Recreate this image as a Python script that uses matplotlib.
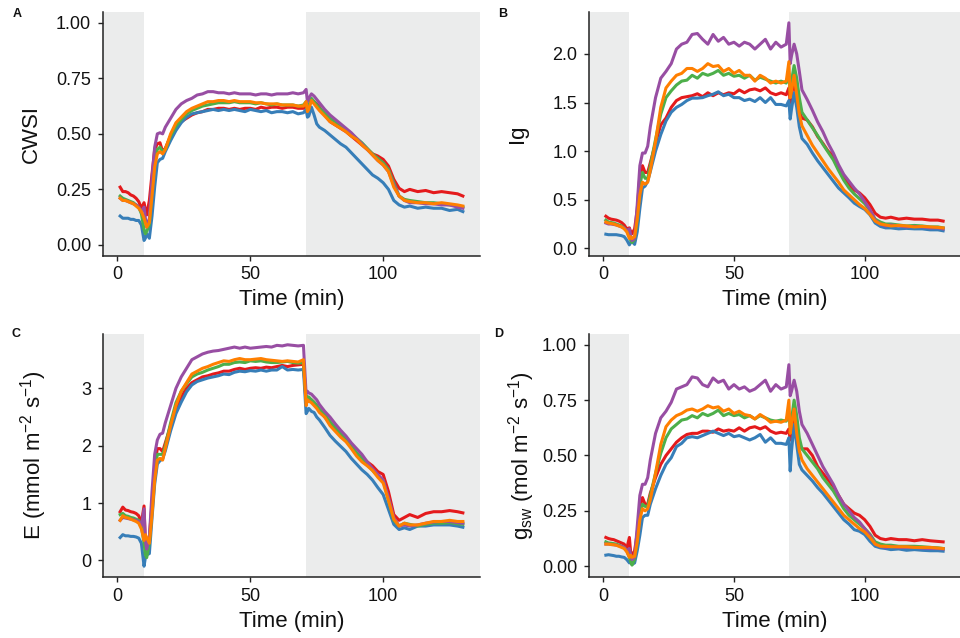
import matplotlib
matplotlib.use("Agg")
import matplotlib.pyplot as plt

plt.rcParams['font.family'] = ['Liberation Sans', 'DejaVu Sans']
plt.rcParams['mathtext.fontset'] = 'custom'
plt.rcParams['mathtext.rm'] = 'Liberation Sans'
plt.rcParams['mathtext.it'] = 'Liberation Sans:italic'

# ---------------- data ----------------
time = [1, 2, 3, 4, 5, 6, 7, 8, 9, 10, 10.5, 11, 12, 13, 14, 15, 16, 17, 18, 20,
        22, 24, 26, 28, 30, 32, 34, 36, 38, 40, 42, 44, 46, 48, 50, 52, 54, 56, 58, 60,
        62, 64, 66, 68, 70, 71, 71.5, 72, 73, 74, 75, 76, 78, 80, 82, 84, 86, 88, 90, 92,
        94, 96, 98, 100, 102, 104, 106, 108, 110, 113, 116, 119, 122, 125, 128, 130]

series_names = ['red', 'blue', 'green', 'purple', 'orange']
series_colors = ['#E41A1C', '#377EB8', '#4DAF4A', '#984EA3', '#FF7F00']

# Panel A: CWSI
cwsi_red = [0.26, 0.24, 0.24, 0.235, 0.225, 0.22, 0.21, 0.195, 0.165, 0.19, 0.16, 0.135, 0.2, 0.32, 0.43, 0.455, 0.46, 0.42, 0.435, 0.49,
            0.53, 0.555, 0.57, 0.585, 0.595, 0.6, 0.61, 0.61, 0.615, 0.615, 0.61, 0.615, 0.61, 0.615, 0.615, 0.61, 0.62, 0.615, 0.62, 0.62,
            0.615, 0.62, 0.62, 0.615, 0.615, 0.63, 0.61, 0.625, 0.655, 0.645, 0.635, 0.62, 0.585, 0.555, 0.54, 0.525, 0.51, 0.49, 0.47, 0.45,
            0.43, 0.41, 0.4, 0.385, 0.355, 0.295, 0.255, 0.24, 0.25, 0.24, 0.245, 0.235, 0.24, 0.235, 0.23, 0.22]
cwsi_blue = [0.13, 0.12, 0.12, 0.12, 0.115, 0.115, 0.11, 0.11, 0.09, 0.02, 0.03, 0.05, 0.03, 0.13, 0.26, 0.37, 0.385, 0.39, 0.42, 0.47,
             0.515, 0.55, 0.575, 0.59, 0.595, 0.6, 0.605, 0.61, 0.605, 0.61, 0.605, 0.61, 0.605, 0.6, 0.61, 0.605, 0.6, 0.605, 0.595, 0.6,
             0.6, 0.595, 0.6, 0.59, 0.595, 0.61, 0.575, 0.58, 0.62, 0.585, 0.545, 0.53, 0.515, 0.495, 0.475, 0.455, 0.44, 0.415, 0.39, 0.365,
             0.34, 0.315, 0.3, 0.28, 0.25, 0.2, 0.18, 0.17, 0.175, 0.165, 0.17, 0.165, 0.165, 0.155, 0.16, 0.15]
cwsi_green = [0.22, 0.21, 0.205, 0.2, 0.195, 0.19, 0.18, 0.17, 0.14, 0.07, 0.05, 0.06, 0.09, 0.25, 0.38, 0.43, 0.44, 0.42, 0.43, 0.49,
              0.535, 0.565, 0.59, 0.605, 0.615, 0.625, 0.63, 0.635, 0.64, 0.64, 0.64, 0.645, 0.64, 0.64, 0.64, 0.635, 0.64, 0.635, 0.63, 0.635,
              0.63, 0.63, 0.63, 0.625, 0.63, 0.645, 0.615, 0.625, 0.66, 0.645, 0.63, 0.615, 0.595, 0.57, 0.555, 0.535, 0.52, 0.5, 0.48, 0.46,
              0.435, 0.41, 0.39, 0.37, 0.34, 0.28, 0.22, 0.205, 0.2, 0.195, 0.19, 0.19, 0.185, 0.18, 0.175, 0.17]
cwsi_purple = [0.21, 0.2, 0.2, 0.195, 0.19, 0.185, 0.18, 0.17, 0.15, 0.17, 0.12, 0.08, 0.12, 0.3, 0.44, 0.5, 0.505, 0.5, 0.53, 0.57,
               0.61, 0.635, 0.65, 0.66, 0.675, 0.68, 0.69, 0.69, 0.685, 0.685, 0.68, 0.685, 0.68, 0.68, 0.68, 0.675, 0.68, 0.68, 0.675, 0.68,
               0.68, 0.68, 0.685, 0.68, 0.685, 0.70, 0.645, 0.66, 0.68, 0.67, 0.655, 0.64, 0.61, 0.585, 0.565, 0.545, 0.525, 0.505, 0.48, 0.455,
               0.43, 0.405, 0.38, 0.36, 0.33, 0.27, 0.22, 0.2, 0.19, 0.19, 0.185, 0.185, 0.18, 0.18, 0.17, 0.165]
cwsi_orange = [0.21, 0.2, 0.2, 0.195, 0.19, 0.185, 0.175, 0.165, 0.15, 0.12, 0.1, 0.08, 0.1, 0.22, 0.35, 0.41, 0.42, 0.41, 0.43, 0.5,
               0.55, 0.575, 0.6, 0.615, 0.625, 0.635, 0.645, 0.645, 0.65, 0.65, 0.645, 0.65, 0.645, 0.645, 0.645, 0.64, 0.64, 0.635, 0.635, 0.635,
               0.63, 0.63, 0.63, 0.625, 0.625, 0.645, 0.6, 0.61, 0.65, 0.635, 0.62, 0.605, 0.58, 0.555, 0.54, 0.525, 0.51, 0.49, 0.475, 0.45,
               0.43, 0.405, 0.38, 0.36, 0.33, 0.26, 0.22, 0.2, 0.195, 0.19, 0.19, 0.185, 0.19, 0.185, 0.18, 0.175]

# Panel B: Ig
ig_red = [0.33, 0.31, 0.3, 0.295, 0.29, 0.28, 0.265, 0.24, 0.2, 0.21, 0.17, 0.15, 0.2, 0.4, 0.75, 0.85, 0.78, 0.78, 0.88, 1.08,
          1.27, 1.34, 1.45, 1.52, 1.55, 1.56, 1.57, 1.59, 1.56, 1.6, 1.57, 1.6, 1.58, 1.6, 1.59, 1.63, 1.6, 1.63, 1.64, 1.62,
          1.65, 1.6, 1.58, 1.6, 1.58, 1.65, 1.5, 1.58, 1.72, 1.55, 1.4, 1.34, 1.32, 1.25, 1.15, 1.08, 1.0, 0.95, 0.82, 0.72,
          0.65, 0.6, 0.57, 0.52, 0.45, 0.36, 0.32, 0.31, 0.32, 0.3, 0.31, 0.3, 0.3, 0.29, 0.29, 0.28]
ig_blue = [0.145, 0.14, 0.14, 0.14, 0.14, 0.135, 0.13, 0.12, 0.085, 0.035, 0.06, 0.07, 0.04, 0.17, 0.41, 0.62, 0.64, 0.69, 0.79, 1.0,
           1.17, 1.31, 1.4, 1.45, 1.48, 1.52, 1.545, 1.545, 1.55, 1.57, 1.585, 1.61, 1.57, 1.585, 1.55, 1.55, 1.52, 1.535, 1.51, 1.55,
           1.5, 1.55, 1.48, 1.48, 1.465, 1.52, 1.33, 1.43, 1.6, 1.45, 1.25, 1.13, 1.07, 0.98, 0.9, 0.83, 0.76, 0.69, 0.62, 0.57,
           0.52, 0.465, 0.43, 0.4, 0.345, 0.26, 0.225, 0.21, 0.21, 0.2, 0.205, 0.2, 0.2, 0.19, 0.19, 0.18]
ig_green = [0.29, 0.27, 0.265, 0.26, 0.25, 0.24, 0.23, 0.21, 0.18, 0.12, 0.08, 0.06, 0.09, 0.3, 0.65, 0.78, 0.72, 0.72, 0.85, 1.12,
            1.38, 1.55, 1.62, 1.68, 1.72, 1.73, 1.78, 1.75, 1.8, 1.78, 1.8, 1.83, 1.78, 1.8, 1.77, 1.78, 1.75, 1.78, 1.73, 1.76,
            1.74, 1.72, 1.7, 1.72, 1.7, 1.8, 1.62, 1.72, 1.88, 1.75, 1.55, 1.4, 1.32, 1.24, 1.16, 1.07, 0.99, 0.91, 0.8, 0.7,
            0.62, 0.56, 0.51, 0.46, 0.39, 0.3, 0.27, 0.25, 0.25, 0.24, 0.23, 0.235, 0.23, 0.22, 0.22, 0.21]
ig_purple = [0.26, 0.25, 0.25, 0.245, 0.24, 0.23, 0.22, 0.21, 0.18, 0.2, 0.13, 0.08, 0.1, 0.45, 0.85, 0.98, 0.98, 1.05, 1.25, 1.55,
             1.75, 1.82, 1.9, 2.05, 2.1, 2.12, 2.2, 2.21, 2.15, 2.1, 2.2, 2.13, 2.17, 2.1, 2.12, 2.08, 2.12, 2.1, 2.05, 2.1,
             2.15, 2.05, 2.12, 2.07, 2.1, 2.32, 1.9, 1.98, 2.1, 2.0, 1.82, 1.63, 1.53, 1.42, 1.3, 1.2, 1.08, 0.98, 0.86, 0.76,
             0.69, 0.62, 0.56, 0.48, 0.4, 0.29, 0.25, 0.23, 0.24, 0.23, 0.22, 0.225, 0.22, 0.21, 0.21, 0.2]
ig_orange = [0.27, 0.26, 0.255, 0.25, 0.24, 0.23, 0.22, 0.2, 0.17, 0.1, 0.12, 0.1, 0.12, 0.3, 0.55, 0.68, 0.66, 0.68, 0.8, 1.1,
             1.45, 1.65, 1.72, 1.78, 1.8, 1.85, 1.85, 1.82, 1.85, 1.9, 1.87, 1.88, 1.82, 1.85, 1.8, 1.83, 1.78, 1.78, 1.72, 1.78,
             1.75, 1.7, 1.72, 1.7, 1.72, 1.92, 1.55, 1.62, 1.78, 1.58, 1.38, 1.26, 1.16, 1.06, 0.98, 0.9, 0.82, 0.75, 0.68, 0.6,
             0.55, 0.5, 0.45, 0.41, 0.35, 0.28, 0.25, 0.24, 0.23, 0.235, 0.23, 0.22, 0.225, 0.22, 0.215, 0.21]

# Panel C: E
e_red = [0.85, 0.93, 0.88, 0.87, 0.85, 0.84, 0.82, 0.78, 0.65, 0.95, 0.3, 0.2, 0.4, 1.0, 1.65, 1.95, 1.95, 1.9, 2.05, 2.35,
         2.65, 2.85, 3.0, 3.1, 3.15, 3.2, 3.22, 3.25, 3.27, 3.3, 3.3, 3.33, 3.35, 3.33, 3.35, 3.36, 3.35, 3.37, 3.36, 3.38,
         3.4, 3.38, 3.4, 3.41, 3.42, 2.75, 2.85, 2.82, 2.8, 2.75, 2.7, 2.62, 2.5, 2.4, 2.3, 2.2, 2.1, 1.98, 1.85, 1.8,
         1.72, 1.65, 1.55, 1.5, 1.2, 0.8, 0.7, 0.75, 0.8, 0.75, 0.82, 0.85, 0.85, 0.87, 0.85, 0.83]
e_blue = [0.4, 0.45, 0.43, 0.43, 0.42, 0.42, 0.41, 0.39, 0.3, -0.1, 0.05, 0.1, 0.12, 0.74, 1.33, 1.68, 1.74, 1.77, 1.91, 2.26,
          2.56, 2.76, 2.94, 3.06, 3.12, 3.15, 3.18, 3.2, 3.22, 3.25, 3.24, 3.28, 3.3, 3.29, 3.31, 3.3, 3.32, 3.3, 3.32, 3.32,
          3.38, 3.32, 3.33, 3.32, 3.33, 2.56, 2.6, 2.65, 2.6, 2.58, 2.5, 2.45, 2.32, 2.18, 2.08, 1.99, 1.9, 1.78, 1.68, 1.58,
          1.5, 1.4, 1.27, 1.15, 0.89, 0.63, 0.54, 0.57, 0.54, 0.6, 0.6, 0.62, 0.62, 0.62, 0.6, 0.58]
e_green = [0.8, 0.82, 0.78, 0.77, 0.75, 0.74, 0.72, 0.7, 0.6, 0.3, 0.1, 0.05, 0.3, 0.9, 1.5, 1.85, 1.85, 1.85, 2.0, 2.4,
           2.75, 2.95, 3.08, 3.2, 3.25, 3.28, 3.32, 3.35, 3.38, 3.42, 3.42, 3.45, 3.46, 3.45, 3.48, 3.47, 3.48, 3.46, 3.45, 3.45,
           3.46, 3.47, 3.45, 3.44, 3.45, 2.8, 2.85, 2.85, 2.8, 2.76, 2.7, 2.64, 2.55, 2.42, 2.32, 2.22, 2.12, 2.0, 1.88, 1.78,
           1.67, 1.57, 1.47, 1.4, 1.05, 0.7, 0.6, 0.65, 0.63, 0.6, 0.63, 0.65, 0.65, 0.66, 0.64, 0.63]
e_purple = [0.7, 0.75, 0.74, 0.73, 0.72, 0.71, 0.7, 0.68, 0.6, 0.9, 0.35, 0.2, 0.4, 1.2, 1.85, 2.1, 2.2, 2.22, 2.4, 2.7,
            3.0, 3.2, 3.35, 3.5, 3.55, 3.6, 3.63, 3.65, 3.66, 3.68, 3.7, 3.72, 3.7, 3.72, 3.7, 3.71, 3.72, 3.73, 3.72, 3.75,
            3.74, 3.76, 3.75, 3.74, 3.75, 2.9, 2.95, 2.92, 2.9, 2.85, 2.8, 2.72, 2.6, 2.5, 2.38, 2.27, 2.17, 2.05, 1.95, 1.85,
            1.72, 1.6, 1.5, 1.4, 1.1, 0.75, 0.6, 0.62, 0.6, 0.62, 0.65, 0.67, 0.68, 0.68, 0.66, 0.65]
e_orange = [0.7, 0.78, 0.75, 0.74, 0.72, 0.7, 0.68, 0.65, 0.55, 0.35, 0.45, 0.4, 0.3, 0.8, 1.4, 1.75, 1.78, 1.75, 1.95, 2.35,
            2.7, 2.95, 3.1, 3.25, 3.3, 3.35, 3.38, 3.42, 3.45, 3.48, 3.47, 3.5, 3.52, 3.5, 3.5, 3.51, 3.52, 3.5, 3.49, 3.48,
            3.47, 3.48, 3.47, 3.46, 3.5, 2.7, 2.8, 2.78, 2.75, 2.7, 2.65, 2.58, 2.5, 2.35, 2.25, 2.15, 2.07, 1.95, 1.82, 1.72,
            1.65, 1.57, 1.45, 1.35, 1.05, 0.72, 0.6, 0.65, 0.62, 0.62, 0.65, 0.68, 0.68, 0.7, 0.68, 0.68]

# Panel D: gsw
gsw_red = [0.13, 0.125, 0.122, 0.12, 0.115, 0.11, 0.105, 0.1, 0.08, 0.13, 0.06, 0.05, 0.07, 0.15, 0.27, 0.31, 0.28, 0.28, 0.33, 0.4,
           0.46, 0.5, 0.53, 0.56, 0.58, 0.595, 0.6, 0.6, 0.61, 0.61, 0.605, 0.62, 0.61, 0.615, 0.61, 0.625, 0.61, 0.625, 0.63, 0.62,
           0.63, 0.61, 0.6, 0.605, 0.6, 0.62, 0.57, 0.6, 0.68, 0.58, 0.55, 0.53, 0.53, 0.5, 0.45, 0.42, 0.39, 0.36, 0.32, 0.28,
           0.26, 0.24, 0.23, 0.21, 0.18, 0.14, 0.125, 0.12, 0.125, 0.12, 0.12, 0.115, 0.12, 0.115, 0.112, 0.11]
gsw_blue = [0.05, 0.052, 0.05, 0.048, 0.045, 0.045, 0.042, 0.04, 0.03, 0.015, 0.02, 0.008, 0.015, 0.07, 0.14, 0.22, 0.23, 0.23, 0.28, 0.35,
            0.41, 0.46, 0.49, 0.54, 0.555, 0.58, 0.585, 0.58, 0.59, 0.6, 0.61, 0.6, 0.59, 0.6, 0.585, 0.59, 0.58, 0.57, 0.58, 0.595,
            0.56, 0.58, 0.555, 0.555, 0.55, 0.58, 0.43, 0.52, 0.64, 0.55, 0.46, 0.435, 0.41, 0.385, 0.355, 0.33, 0.3, 0.27, 0.24, 0.21,
            0.19, 0.165, 0.158, 0.143, 0.113, 0.09, 0.083, 0.08, 0.075, 0.078, 0.072, 0.075, 0.072, 0.07, 0.07, 0.068]
gsw_green = [0.11, 0.105, 0.104, 0.102, 0.1, 0.095, 0.09, 0.085, 0.07, 0.04, 0.02, 0.005, 0.03, 0.12, 0.24, 0.28, 0.27, 0.27, 0.32, 0.42,
             0.51, 0.58, 0.62, 0.64, 0.66, 0.665, 0.68, 0.67, 0.69, 0.68, 0.69, 0.705, 0.68, 0.69, 0.68, 0.685, 0.67, 0.68, 0.665, 0.68,
             0.67, 0.66, 0.655, 0.66, 0.655, 0.69, 0.63, 0.66, 0.75, 0.68, 0.58, 0.53, 0.5, 0.47, 0.44, 0.4, 0.37, 0.34, 0.3, 0.26,
             0.23, 0.21, 0.19, 0.17, 0.145, 0.11, 0.1, 0.095, 0.095, 0.09, 0.09, 0.09, 0.088, 0.085, 0.083, 0.08]
gsw_purple = [0.1, 0.1, 0.098, 0.097, 0.095, 0.092, 0.09, 0.085, 0.07, 0.08, 0.05, 0.03, 0.04, 0.18, 0.32, 0.37, 0.37, 0.4, 0.48, 0.6,
              0.67, 0.7, 0.74, 0.8, 0.81, 0.82, 0.855, 0.85, 0.82, 0.81, 0.85, 0.83, 0.84, 0.8, 0.82, 0.8, 0.81, 0.79, 0.8, 0.82,
              0.84, 0.79, 0.82, 0.8, 0.81, 0.91, 0.77, 0.79, 0.84, 0.79, 0.7, 0.64, 0.6, 0.55, 0.5, 0.45, 0.41, 0.37, 0.32, 0.28,
              0.25, 0.22, 0.2, 0.17, 0.14, 0.1, 0.09, 0.085, 0.09, 0.085, 0.085, 0.085, 0.082, 0.08, 0.08, 0.078]
gsw_orange = [0.1, 0.1, 0.098, 0.097, 0.095, 0.09, 0.085, 0.08, 0.065, 0.04, 0.05, 0.04, 0.045, 0.11, 0.21, 0.26, 0.25, 0.26, 0.3, 0.42,
              0.55, 0.63, 0.66, 0.68, 0.69, 0.705, 0.71, 0.7, 0.71, 0.725, 0.715, 0.72, 0.7, 0.71, 0.69, 0.7, 0.685, 0.68, 0.665, 0.685,
              0.67, 0.65, 0.655, 0.65, 0.66, 0.75, 0.6, 0.64, 0.71, 0.6, 0.52, 0.48, 0.44, 0.41, 0.38, 0.35, 0.32, 0.29, 0.26, 0.23,
              0.21, 0.19, 0.17, 0.155, 0.13, 0.1, 0.09, 0.09, 0.088, 0.088, 0.088, 0.085, 0.085, 0.085, 0.082, 0.08]

shade_ranges = [(-20, 10), (71, 150)]
x_ticks = [0, 50, 100]
cwsi_ticks = [0.0, 0.25, 0.5, 0.75, 1.0]
cwsi_ticklabels = ['0.00', '0.25', '0.50', '0.75', '1.00']
ig_ticks = [0.0, 0.5, 1.0, 1.5, 2.0]
ig_ticklabels = ['0.0', '0.5', '1.0', '1.5', '2.0']
e_ticks = [0, 1, 2, 3]
e_ticklabels = ['0', '1', '2', '3']
gsw_ticks = [0.0, 0.25, 0.5, 0.75, 1.0]
gsw_ticklabels = ['0.00', '0.25', '0.50', '0.75', '1.00']

panels = [
    dict(letter='A', ylabel='CWSI', data=[cwsi_red, cwsi_blue, cwsi_green, cwsi_purple, cwsi_orange],
         ylim=(-0.05, 1.05), ticks=cwsi_ticks, ticklabels=cwsi_ticklabels,
         rect=[103, 11.7, 480, 256], ylab_x=31, letter_xy=(17, 14)),
    dict(letter='B', ylabel='Ig', data=[ig_red, ig_blue, ig_green, ig_purple, ig_orange],
         ylim=None, ticks=ig_ticks, ticklabels=ig_ticklabels,
         rect=[589, 11.7, 960, 256], ylab_x=518, letter_xy=(503, 14)),
    dict(letter='C', ylabel='E (mmol m$^{-2}$ s$^{-1}$)', data=[e_red, e_blue, e_green, e_purple, e_orange],
         ylim=None, ticks=e_ticks, ticklabels=e_ticklabels,
         rect=[103, 333.7, 480, 577.3], ylab_x=34, letter_xy=(16, 334)),
    dict(letter='D', ylabel='g$_{\\mathrm{sw}}$ (mol m$^{-2}$ s$^{-1}$)', data=[gsw_red, gsw_blue, gsw_green, gsw_purple, gsw_orange],
         ylim=(-0.05, 1.05), ticks=gsw_ticks, ticklabels=gsw_ticklabels,
         rect=[589, 333.7, 960, 577.3], ylab_x=522, letter_xy=(499, 334)),
]

W, H = 960, 638
fig = plt.figure(figsize=(9.6, 6.38), dpi=100)
axis_col = '#222222'

for p in panels:
    x0, y0, x1, y1 = p['rect']
    ax = fig.add_axes([x0 / W, 1 - y1 / H, (x1 - x0) / W, (y1 - y0) / H])
    for (a, b) in shade_ranges:
        ax.axvspan(a, b, color='#EBECEC', lw=0, zorder=0)
    for vals, col in zip(p['data'], series_colors):
        ax.plot(time, vals, color=col, lw=2.2, solid_joinstyle='round', zorder=2)
    ax.set_xlim(-5.45, 136.45)
    if p['ylim'] is not None:
        ax.set_ylim(*p['ylim'])
    else:
        allv = [v for s in p['data'] for v in s]
        lo, hi = min(allv), max(allv)
        pad = 0.05 * (hi - lo)
        ax.set_ylim(lo - pad, hi + pad)
    ax.set_xticks(x_ticks)
    ax.set_yticks(p['ticks'])
    ax.set_yticklabels(p['ticklabels'])
    for s in ['top', 'right']:
        ax.spines[s].set_visible(False)
    for s in ['left', 'bottom']:
        ax.spines[s].set_color(axis_col)
        ax.spines[s].set_linewidth(1.1)
    ax.tick_params(axis='both', direction='out', length=3.5, width=1.0, color=axis_col,
                   labelsize=13, labelcolor='#111111')
    ax.tick_params(axis='x', pad=4)
    ax.tick_params(axis='y', pad=5)
    ax.set_facecolor('white')
    # axis titles
    cx = (x0 + x1) / 2
    fig.text(cx / W, 1 - (y1 + 44) / H, 'Time (min)', ha='center', va='center', fontsize=16, color='#111111')
    fig.text(p['ylab_x'] / W, 1 - ((y0 + y1) / 2) / H, p['ylabel'], rotation=90,
             ha='center', va='center', fontsize=16, color='#111111')
    lx, ly = p['letter_xy']
    fig.text(lx / W, 1 - ly / H, p['letter'], ha='center', va='center', fontsize=9,
             fontweight='bold', color='#111111')

fig.savefig('out.png', dpi=100, facecolor='white')
